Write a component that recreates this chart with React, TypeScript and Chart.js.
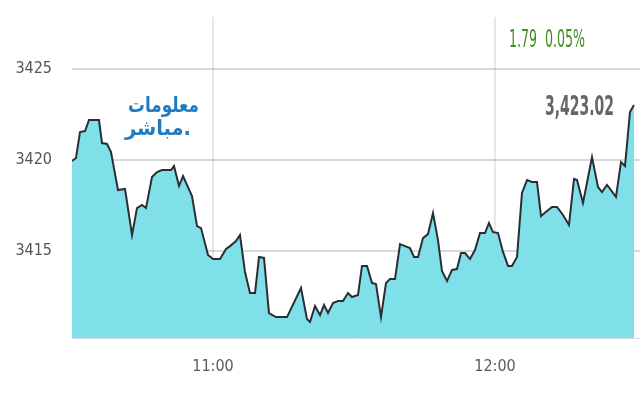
import React, { useEffect, useRef } from "react";
import { Chart, registerables } from "chart.js";

Chart.register(...registerables);

// minutes since 10:30
const timeMin = [
  0, 0.85, 1.7, 2.77, 3.62, 5.74, 6.38, 7.45, 8.3, 9.79, 11.28, 12.77, 13.83, 14.89, 15.74,
  17.02, 18.09, 19.15, 20.0, 21.06, 21.7, 22.77, 23.62, 25.53, 26.6, 27.45, 28.94, 30.0,
  31.49, 32.77, 33.62, 34.89, 35.74, 36.81, 37.87, 38.94, 39.79, 40.85, 41.91, 43.4, 45.74,
  48.72, 50.0, 50.64, 51.7, 52.77, 53.62, 54.47, 55.53, 56.6, 57.66, 58.72, 59.57, 60.85,
  61.7, 62.77, 63.83, 64.68, 65.74, 66.81, 67.66, 68.72, 69.79, 70.85, 71.91, 72.77, 73.62,
  74.68, 75.74, 76.81, 77.87, 78.72, 79.79, 80.85, 81.91, 82.77, 83.62, 84.68, 85.74, 86.81,
  87.87, 88.72, 89.57, 90.64, 91.7, 92.77, 93.62, 94.68, 95.74, 96.81, 97.87, 98.94, 99.79,
  101.06, 102.13, 103.19, 104.47, 105.74, 106.81, 107.45, 108.72, 110.64, 111.91, 112.77,
  113.83, 114.68, 115.74, 116.81, 117.66, 118.72, 119.57,
];

const priceValues = [
  3419.95, 3420.11, 3421.54, 3421.59, 3422.2, 3422.2, 3420.93, 3420.88, 3420.44, 3418.35,
  3418.41, 3415.88, 3417.36, 3417.53, 3417.36, 3419.07, 3419.34, 3419.45, 3419.45, 3419.45,
  3419.67, 3418.57, 3419.12, 3418.02, 3416.37, 3416.26, 3414.78, 3414.56, 3414.56, 3415.11,
  3415.27, 3415.55, 3415.88, 3413.85, 3412.69, 3412.69, 3414.67, 3414.62, 3411.59, 3411.37,
  3411.37, 3412.97, 3411.26, 3411.1, 3411.98, 3411.48, 3412.03, 3411.59, 3412.14, 3412.25,
  3412.25, 3412.69, 3412.47, 3412.58, 3414.18, 3414.18, 3413.24, 3413.19, 3411.37, 3413.24,
  3413.46, 3413.46, 3415.38, 3415.27, 3415.16, 3414.67, 3414.67, 3415.71, 3415.93, 3417.09,
  3415.6, 3413.9, 3413.35, 3413.96, 3414.01, 3414.89, 3414.89, 3414.56, 3415.05, 3415.99,
  3415.99, 3416.54, 3416.04, 3415.99, 3414.95, 3414.18, 3414.18, 3414.67, 3418.19, 3418.9,
  3418.79, 3418.79, 3416.92, 3417.2, 3417.42, 3417.42, 3416.98, 3416.43, 3418.96, 3418.9,
  3417.64, 3420.16, 3418.52, 3418.24, 3418.63, 3418.35, 3417.97, 3419.89, 3419.67, 3422.64,
  3423.02,
];

const xTickValues = [30, 90];
const xTickLabels = ["11:00", "12:00"];
const yTickValues = [3415, 3420, 3425];

const changeText = "1.79";
const percentText = "0.05%";
const lastText = "3,423.02";
const logoLine1 = "معلومات";
const logoLine2 = "مباشر.";

const NARROW = '"Liberation Sans Narrow", "DejaVu Sans Condensed", "Liberation Sans", sans-serif';

function fitText(
  ctx: CanvasRenderingContext2D,
  text: string,
  x: number,
  y: number,
  width: number
) {
  const w = ctx.measureText(text).width || 1;
  ctx.save();
  ctx.translate(x, y);
  ctx.scale(width / w, 1);
  ctx.fillText(text, 0, 0);
  ctx.restore();
}

const overlayPlugin = {
  id: "overlayTexts",
  afterDraw(chart: any) {
    const ctx = chart.ctx as CanvasRenderingContext2D;
    ctx.save();
    ctx.textBaseline = "alphabetic";
    ctx.textAlign = "left";

    // change / percent
    ctx.font = `24px ${NARROW}`;
    ctx.fillStyle = "#3f8f1f";
    fitText(ctx, `${changeText}  ${percentText}`, 509, 47, 76);

    // last value
    ctx.font = `bold 27px ${NARROW}`;
    ctx.fillStyle = "#666666";
    fitText(ctx, lastText, 545, 115, 69);

    // logo
    ctx.fillStyle = "#1f7cc2";
    ctx.font = 'bold 21px "DejaVu Sans", "Noto Sans", sans-serif';
    fitText(ctx, logoLine1, 128, 112, 71);
    fitText(ctx, logoLine2, 125, 135, 66);

    ctx.restore();
  },
};

export default function App() {
  const canvasRef = useRef<HTMLCanvasElement | null>(null);

  useEffect(() => {
    if (!canvasRef.current) return;
    const points = timeMin.map((t, i) => ({ x: t, y: priceValues[i] }));
    const chart = new Chart(canvasRef.current, {
      type: "line",
      data: {
        datasets: [
          {
            data: points,
            borderColor: "#2a2e33",
            borderWidth: 2,
            backgroundColor: "#80e0ea",
            fill: "start",
            tension: 0,
            pointRadius: 0,
          },
        ],
      },
      options: {
        animation: false,
        responsive: false,
        maintainAspectRatio: false,
        layout: { padding: { top: 17, right: 0, bottom: 0, left: 0 } },
        plugins: {
          legend: { display: false },
          tooltip: { enabled: false },
          title: { display: false },
        },
        scales: {
          x: {
            type: "linear",
            min: 0,
            max: 120.85,
            z: 1,
            afterBuildTicks: (scale: any) => {
              scale.ticks = xTickValues.map((v) => ({ value: v }));
            },
            afterFit: (scale: any) => {
              scale.height = 62;
              scale.paddingLeft = 0;
              scale.paddingRight = 0;
            },
            ticks: {
              padding: 19,
              maxRotation: 0,
              autoSkip: false,
              color: "#5a5a64",
              font: { family: NARROW, size: 16 },
              callback: (v: any) => {
                const i = xTickValues.indexOf(Number(v));
                return i >= 0 ? xTickLabels[i] : "";
              },
            },
            grid: {
              color: "rgba(0,0,0,0.09)",
              lineWidth: 2,
              drawTicks: false,
            },
            border: { display: true, color: "#dcdde6", width: 1 },
          },
          y: {
            type: "linear",
            min: 3410.22,
            max: 3427.86,
            z: 1,
            afterBuildTicks: (scale: any) => {
              scale.ticks = yTickValues.map((v) => ({ value: v }));
            },
            afterFit: (scale: any) => {
              scale.width = 72;
              scale.paddingTop = 0;
              scale.paddingBottom = 0;
            },
            ticks: {
              padding: 20,
              color: "#555555",
              font: { family: NARROW, size: 16 },
              callback: (v: any) => String(v),
            },
            grid: {
              color: "rgba(0,0,0,0.15)",
              lineWidth: 2,
              drawTicks: false,
            },
            border: { display: false },
          },
        },
      },
      plugins: [overlayPlugin],
    });
    return () => chart.destroy();
  }, []);

  return (
    <div style={{ position: "fixed", left: 0, top: 0, width: 640, height: 400, background: "#fff" }}>
      <canvas ref={canvasRef} width={640} height={400} style={{ display: "block" }} />
    </div>
  );
}
